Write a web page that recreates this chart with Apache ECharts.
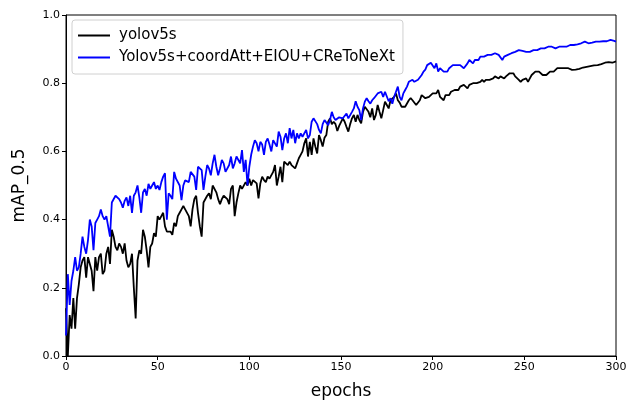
<!DOCTYPE html>
<html>
<head>
<meta charset="utf-8">
<script src="https://cdn.jsdelivr.net/npm/echarts@6/dist/echarts.min.js"></script>
<style>
  html, body { margin: 0; padding: 0; background: #fff; }
  #chart { width: 626px; height: 402px; }
</style>
</head>
<body>
<div id="chart"></div>
<script>
// mAP_0.5 per epoch (index = epoch 0..300)
const yolov5s = [
  0.14,0.0,0.12,0.08,0.17,0.08,0.17,0.21,0.26,0.28,0.29,
  0.23,0.29,0.27,0.25,0.19,0.29,0.25,0.29,0.30,0.24,
  0.25,0.30,0.32,0.27,0.37,0.35,0.32,0.31,0.33,0.32,
  0.30,0.33,0.28,0.26,0.27,0.30,0.20,0.11,0.28,0.31,
  0.30,0.37,0.35,0.31,0.26,0.32,0.33,0.36,0.35,0.41,
  0.40,0.40,0.42,0.38,0.365,0.36,0.365,0.355,0.39,0.38,
  0.41,0.42,0.43,0.44,0.43,0.435,0.41,0.38,0.43,0.46,
  0.47,0.42,0.38,0.35,0.45,0.445,0.47,0.477,0.46,0.50,
  0.50,0.48,0.46,0.445,0.46,0.47,0.47,0.46,0.445,0.49,
  0.50,0.41,0.45,0.477,0.50,0.49,0.49,0.51,0.50,0.52,
  0.50,0.516,0.52,0.506,0.462,0.506,0.526,0.516,0.51,0.526,
  0.52,0.516,0.54,0.56,0.50,0.526,0.555,0.51,0.57,0.57,
  0.56,0.57,0.56,0.555,0.55,0.565,0.58,0.59,0.60,0.624,
  0.638,0.585,0.628,0.59,0.638,0.614,0.594,0.648,0.633,0.614,
  0.64,0.648,0.687,0.697,0.68,0.687,0.68,0.66,0.675,0.68,
  0.697,0.687,0.672,0.658,0.68,0.697,0.707,0.687,0.707,0.692,
  0.682,0.716,0.731,0.736,0.716,0.70,0.726,0.692,0.707,0.736,
  0.716,0.697,0.721,0.746,0.736,0.726,0.75,0.746,0.76,0.77,
  0.75,0.743,0.731,0.736,0.731,0.736,0.75,0.756,0.75,0.746,
  0.736,0.731,0.75,0.765,0.76,0.756,0.76,0.76,0.765,0.77,
  0.765,0.77,0.78,0.76,0.765,0.75,0.765,0.77,0.765,0.775,
  0.775,0.78,0.775,0.78,0.79,0.785,0.795,0.79,0.785,0.795,
  0.80,0.80,0.804,0.80,0.80,0.804,0.81,0.804,0.81,0.814,
  0.81,0.814,0.814,0.82,0.82,0.814,0.82,0.82,0.814,0.82,
  0.824,0.829,0.824,0.829,0.82,0.82,0.81,0.804,0.81,0.815,
  0.814,0.804,0.814,0.824,0.829,0.834,0.829,0.834,0.829,0.824,
  0.829,0.824,0.829,0.834,0.839,0.834,0.839,0.844,0.839,0.844,
  0.839,0.844,0.848,0.844,0.839,0.839,0.839,0.84,0.84,0.842,
  0.844,0.846,0.848,0.848,0.85,0.85,0.852,0.852,0.853,0.853,
  0.856,0.856,0.858,0.86,0.86,0.862,0.862,0.86,0.862,0.864
];

const improved = [
  0.06,0.24,0.15,0.22,0.25,0.29,0.25,0.26,0.30,0.35,0.32,
  0.30,0.34,0.40,0.38,0.31,0.39,0.40,0.41,0.43,0.41,
  0.40,0.41,0.38,0.35,0.45,0.455,0.47,0.465,0.46,0.45,
  0.435,0.455,0.465,0.44,0.47,0.42,0.47,0.48,0.50,0.465,
  0.42,0.48,0.49,0.47,0.505,0.49,0.50,0.51,0.49,0.50,
  0.487,0.51,0.526,0.536,0.40,0.477,0.47,0.46,0.54,0.52,
  0.515,0.50,0.457,0.50,0.515,0.52,0.51,0.54,0.54,0.526,
  0.487,0.555,0.55,0.545,0.487,0.526,0.56,0.55,0.53,0.565,
  0.59,0.555,0.53,0.55,0.575,0.565,0.54,0.545,0.56,0.585,
  0.55,0.565,0.585,0.58,0.565,0.604,0.54,0.575,0.50,0.555,
  0.59,0.614,0.633,0.624,0.60,0.628,0.62,0.59,0.628,0.638,
  0.62,0.60,0.633,0.638,0.614,0.658,0.643,0.604,0.638,0.653,
  0.624,0.668,0.638,0.663,0.624,0.653,0.638,0.653,0.643,0.648,
  0.663,0.638,0.648,0.687,0.697,0.692,0.68,0.663,0.653,0.68,
  0.692,0.687,0.677,0.692,0.716,0.70,0.692,0.697,0.70,0.705,
  0.697,0.70,0.711,0.697,0.692,0.716,0.726,0.747,0.731,0.721,
  0.692,0.726,0.746,0.756,0.747,0.74,0.75,0.756,0.76,0.77,
  0.765,0.775,0.76,0.775,0.77,0.747,0.756,0.74,0.76,0.775,
  0.79,0.76,0.75,0.77,0.78,0.79,0.804,0.80,0.81,0.804,
  0.80,0.81,0.814,0.824,0.834,0.84,0.853,0.858,0.86,0.855,
  0.844,0.858,0.834,0.844,0.84,0.834,0.829,0.834,0.844,0.848,
  0.853,0.858,0.853,0.858,0.853,0.858,0.844,0.84,0.858,0.868,
  0.873,0.858,0.868,0.873,0.868,0.878,0.883,0.878,0.883,0.883,
  0.888,0.883,0.888,0.888,0.883,0.883,0.878,0.868,0.878,0.883,
  0.883,0.888,0.888,0.888,0.892,0.892,0.897,0.892,0.895,0.892,
  0.892,0.897,0.892,0.897,0.897,0.902,0.897,0.902,0.902,0.90,
  0.902,0.904,0.907,0.904,0.907,0.907,0.902,0.904,0.907,0.904,
  0.907,0.91,0.907,0.91,0.912,0.914,0.912,0.917,0.914,0.917,
  0.917,0.919,0.922,0.923,0.917,0.917,0.919,0.922,0.922,0.923,
  0.922,0.923,0.923,0.927,0.923,0.923,0.927,0.922,0.924,0.922
];

const seriesNames = ['yolov5s', 'Yolov5s+coordAtt+EIOU+CReToNeXt'];
const seriesColors = ['#000000', '#0000ff'];
const font = 'DejaVu Sans';

const chart = echarts.init(document.getElementById('chart'));

const toPoints = arr => arr.map((v, i) => [i, v]);

chart.setOption({
  animation: false,
  grid: {
    left: 66, right: 10, top: 15, bottom: 46,
    outerBoundsMode: 'none',
    show: true, borderColor: '#000', borderWidth: 1, backgroundColor: 'transparent'
  },
  legend: {
    left: 72, top: 20,
    orient: 'vertical',
    icon: 'rect',
    itemWidth: 32, itemHeight: 2,
    itemGap: 7,
    padding: [8, 8, 9, 6],
    borderColor: '#d0d0d0', borderWidth: 1, borderRadius: 3,
    backgroundColor: 'rgba(255,255,255,0.85)',
    textStyle: { fontFamily: font, fontSize: 15, color: '#000', padding: [0, 0, 0, 4] },
    data: seriesNames
  },
  xAxis: {
    type: 'value', min: 0, max: 300, interval: 50,
    name: 'epochs', nameLocation: 'middle', nameGap: 27,
    nameTextStyle: { fontFamily: font, fontSize: 17, color: '#000' },
    axisLine: { show: true, lineStyle: { color: '#000' } },
    axisTick: { show: true, length: 4, lineStyle: { color: '#000' } },
    axisLabel: { fontFamily: font, fontSize: 11, color: '#000', margin: 6 },
    splitLine: { show: false }
  },
  yAxis: {
    type: 'value', min: 0, max: 1, interval: 0.2,
    name: 'mAP_0.5', nameLocation: 'middle', nameGap: 38,
    nameTextStyle: { fontFamily: font, fontSize: 17, color: '#000' },
    axisLine: { show: true, lineStyle: { color: '#000' } },
    axisTick: { show: true, length: 4, lineStyle: { color: '#000' } },
    axisLabel: { fontFamily: font, fontSize: 11, color: '#000', margin: 6,
      formatter: v => v.toFixed(1) },
    splitLine: { show: false }
  },
  series: [
    {
      name: seriesNames[0], type: 'line', data: toPoints(yolov5s),
      showSymbol: false, color: seriesColors[0],
      lineStyle: { width: 1.8, color: seriesColors[0] }
    },
    {
      name: seriesNames[1], type: 'line', data: toPoints(improved),
      showSymbol: false, color: seriesColors[1],
      lineStyle: { width: 1.8, color: seriesColors[1] }
    }
  ]
});
</script>
</body>
</html>
